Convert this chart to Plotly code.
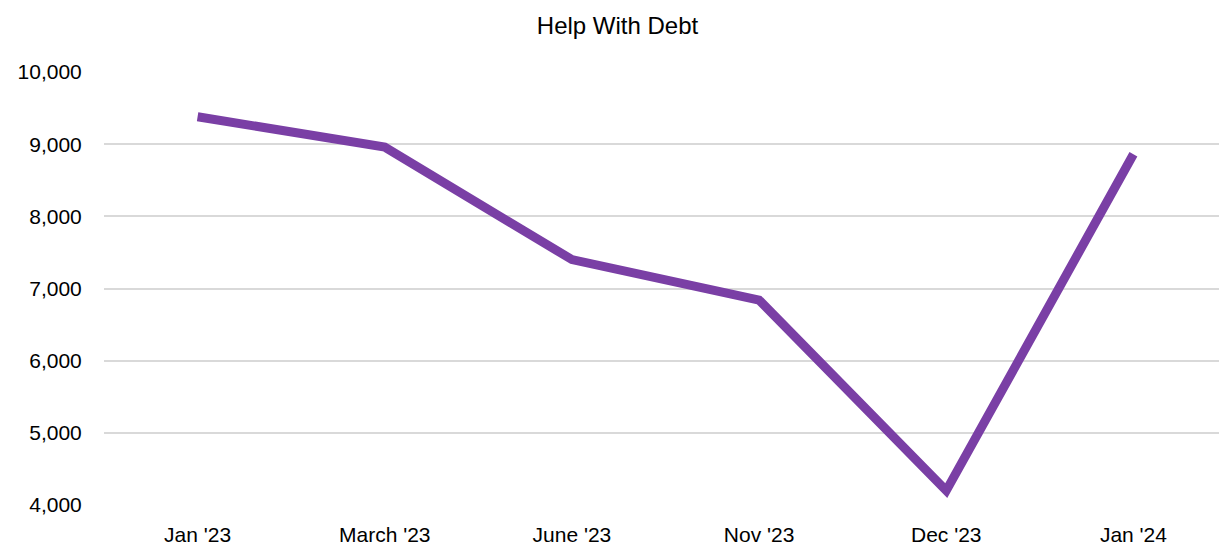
import plotly.graph_objects as go

categories = ["Jan '23", "March '23", "June '23", "Nov '23", "Dec '23", "Jan '24"]
values = [9380, 8960, 7400, 6840, 4200, 8860]
y_ticks = [4000, 5000, 6000, 7000, 8000, 9000, 10000]

fig = go.Figure()
fig.add_trace(go.Scatter(
    x=categories, y=values, mode="lines",
    line=dict(color="#7A3FA5", width=9),
    hoverinfo="x+y",
))

# page body has an 8px margin; compensate so the plot lands where the reference has it
fig.update_layout(
    width=1219, height=540,
    margin=dict(l=96, r=0, t=64, b=43),
    paper_bgcolor="white", plot_bgcolor="white",
    font=dict(family="Liberation Sans, Arial, sans-serif", size=21, color="#000000"),
    title=dict(text="Help With Debt", x=0.5, xanchor="center", y=0.967, yanchor="middle",
               font=dict(size=24, color="#000000")),
    showlegend=False,
)
fig.update_xaxes(
    type="category", showgrid=False, zeroline=False, showline=False,
    ticks="outside", ticklen=11, tickcolor="rgba(0,0,0,0)",
    range=[-0.5, 5.5],
)
fig.update_yaxes(
    range=[4000, 10000], tickvals=y_ticks, tickformat=",d",
    showgrid=True, gridcolor="#D9D9D9", gridwidth=1.5, zeroline=False, showline=False,
    ticks="outside", ticklen=17, tickcolor="rgba(0,0,0,0)",
)

fig.write_html("out.html")
